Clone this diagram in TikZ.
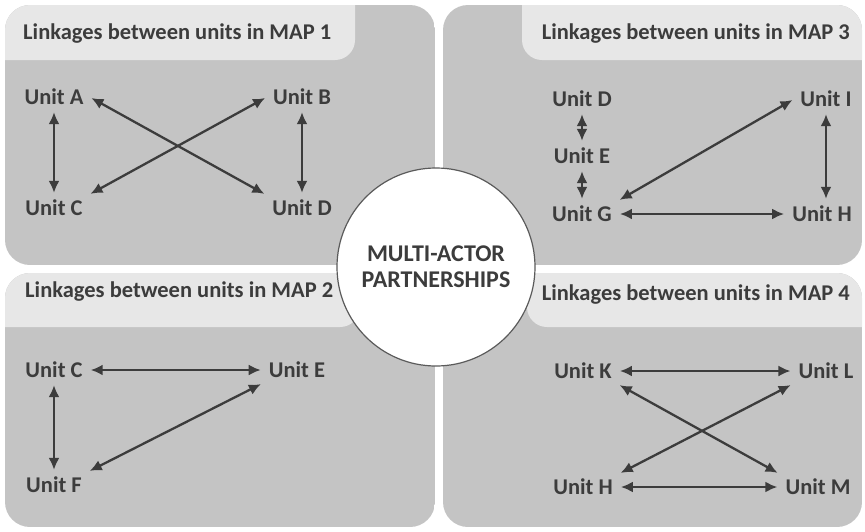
\documentclass[tikz,border=0pt]{standalone}
\usepackage{fontspec}
\setmainfont{Carlito}
\usetikzlibrary{arrows.meta}
\definecolor{panelgray}{HTML}{C4C4C4}
\definecolor{headgray}{HTML}{E7E7E7}
\definecolor{inkgray}{HTML}{3C3C3C}
\definecolor{rimgray}{HTML}{5A5A5A}

\begin{document}
\begin{tikzpicture}[x=1pt, y=-1pt,
  unit/.style={inner xsep=6pt, inner ysep=5pt, text=inkgray,
    font=\fontsize{22.5}{26}\selectfont\bfseries},
  title/.style={inner sep=0pt, text=inkgray,
    font=\fontsize{22.5}{26}\selectfont\bfseries},
  link/.style={{Latex[length=12pt,width=11pt]}-{Latex[length=12pt,width=11pt]},
    line width=2.3pt, draw=inkgray, shorten <=2pt, shorten >=2pt},
  >=stealth
]
\useasboundingbox (0,0) rectangle (865,531);

% the four panels with their header strips
\begin{scope}
  \clip[rounded corners=25pt] (5,5) rectangle (435,265);
  \fill[panelgray] (5,5) rectangle (435,265);
  \fill[headgray, rounded corners=20pt] (-50,-50) rectangle (355,60);
\end{scope}
\begin{scope}
  \clip[rounded corners=25pt] (443,5) rectangle (862,265);
  \fill[panelgray] (443,5) rectangle (862,265);
  \fill[headgray, rounded corners=20pt] (522,-50) rectangle (920,60);
\end{scope}
\begin{scope}
  \clip[rounded corners=25pt] (5,273) rectangle (435,527);
  \fill[panelgray] (5,273) rectangle (435,527);
  \fill[headgray, rounded corners=20pt] (-50,220) rectangle (360,327);
\end{scope}
\begin{scope}
  \clip[rounded corners=25pt] (443,273) rectangle (862,527);
  \fill[panelgray] (443,273) rectangle (862,527);
  \fill[headgray, rounded corners=20pt] (527,220) rectangle (920,327);
\end{scope}

\node[title, anchor=west] (T1) at (23,34) {Linkages between units in MAP 1};
\node[title, anchor=east] (T3) at (850,34) {Linkages between units in MAP 3};
\node[title, anchor=west] (T2) at (25,292) {Linkages between units in MAP 2};
\node[title, anchor=east] (T4) at (850,295) {Linkages between units in MAP 4};

% MAP 1
\node[unit] (A1) at (54,97) {Unit A};
\node[unit] (B1) at (302,97) {Unit B};
\node[unit] (C1) at (54,208) {Unit C};
\node[unit] (D1) at (302,208) {Unit D};
\draw[link] (A1) -- (C1);
\draw[link] (B1) -- (D1);
\draw[link] (A1.east) -- (D1.north west);
\draw[link] (B1.west) -- (C1.north east);

% MAP 3
\node[unit] (D3) at (582,99) {Unit D};
\node[unit] (E3) at (582,156) {Unit E};
\node[unit] (G3) at (582,214) {Unit G};
\node[unit] (I3) at (826,99) {Unit I};
\node[unit] (H3) at (822,214) {Unit H};
\draw[link] (D3) -- (E3);
\draw[link] (E3) -- (G3);
\draw[link] (G3.north east) -- (I3.west);
\draw[link] (G3) -- (H3);
\draw[link] (I3.south) -- (I3.south |- H3.north);

% MAP 2
\node[unit] (C2) at (54,370) {Unit C};
\node[unit] (E2) at (297,370) {Unit E};
\node[unit] (F2) at (54,485) {Unit F};
\draw[link] (C2) -- (E2);
\draw[link] (C2) -- (F2);
\draw[link] (E2.south west) -- (F2.north east);

% MAP 4
\node[unit] (K4) at (583,371) {Unit K};
\node[unit] (L4) at (826,371) {Unit L};
\node[unit] (H4) at (583,487) {Unit H};
\node[unit] (M4) at (818,487) {Unit M};
\draw[link] (K4) -- (L4);
\draw[link] (H4) -- (M4);
\draw[link] (K4.south east) -- (M4.north west);
\draw[link] (L4.south west) -- (H4.north east);

% centre
\node[circle, draw=rimgray, line width=1.2pt, fill=white, minimum size=198pt,
  align=center, text=inkgray, font=\fontsize{24}{26}\selectfont\bfseries]
  (MAP) at (436,267) {MULTI-ACTOR\\PARTNERSHIPS};
\end{tikzpicture}
\end{document}
